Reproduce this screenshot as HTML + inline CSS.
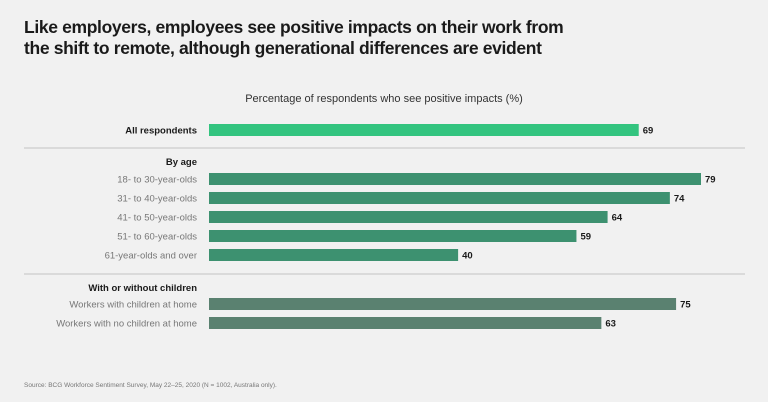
<!DOCTYPE html>
<html><head><meta charset="utf-8"><style>
body{margin:0;background:#f1f1f1;font-family:"Liberation Sans",sans-serif;}
#wrap{position:relative;width:768px;height:402px;overflow:hidden;background:#f1f1f1;}
h1{position:absolute;left:24px;top:17px;margin:0;font-size:17.5px;line-height:21px;font-weight:bold;color:#1a1a1a;letter-spacing:-0.35px;}
</style></head><body>
<div id="wrap">
<h1>Like employers, employees see positive impacts on their work from<br>the shift to remote, although generational differences are evident</h1>
<svg id="chart" width="768" height="402" style="position:absolute;left:0;top:0"></svg>
</div>
<script>
const categories=["All respondents","18- to 30-year-olds","31- to 40-year-olds","41- to 50-year-olds","51- to 60-year-olds","61-year-olds and over","Workers with children at home","Workers with no children at home"];
const values=[69,79,74,64,59,40,75,63];
const groups=["all","age","age","age","age","age","kids","kids"];
const rowY=[124,173,192,211,230,249,298,317];
const colors={all:"#33c47f",age:"#3d9170",kids:"#5a8170"};
const NS="http://www.w3.org/2000/svg";
const svg=document.getElementById('chart');
const x0=209, scale=(701-209)/79;
const xs=v=>x0+v*scale;
function mk(tag,attrs,text){const e=document.createElementNS(NS,tag);for(const k in attrs)e.setAttribute(k,attrs[k]);if(text!==undefined)e.textContent=text;svg.appendChild(e);return e;}
let t=mk('text',{x:384,y:102,'text-anchor':'middle','font-size':11,fill:'#333'},'Percentage of respondents who see positive impacts (%)');


[148,274].forEach((y,i)=>{const l=mk('line',{x1:24,x2:745,y1:y,y2:y,stroke:'#c4c4c4','stroke-width':1});

});
[["By age",165],["With or without children",291]].forEach(([s,y])=>{const h=mk('text',{x:197,y:y,'text-anchor':'end','font-size':9.5,'font-weight':'bold',fill:'#1a1a1a'},s);

});
categories.forEach((c,i)=>{
 const y=rowY[i];
 const lab=mk('text',{x:197,y:y+9.5,'text-anchor':'end','font-size':9.5,'font-weight':i===0?'bold':'normal',fill:i===0?'#1a1a1a':'#777'},c);
 
 
 const r=mk('rect',{x:x0,y:y,width:xs(values[i])-x0,height:12,fill:colors[groups[i]]});
 
 
 const v=mk('text',{x:xs(values[i])+4,y:y+9.5,'font-size':9.5,'font-weight':'bold',fill:'#1a1a1a'},values[i]);
 
 
});
const src=mk('text',{x:24,y:387,'font-size':6.5,fill:'#777'},'Source: BCG Workforce Sentiment Survey, May 22–25, 2020 (N = 1002, Australia only).');


</script>
</body></html>
